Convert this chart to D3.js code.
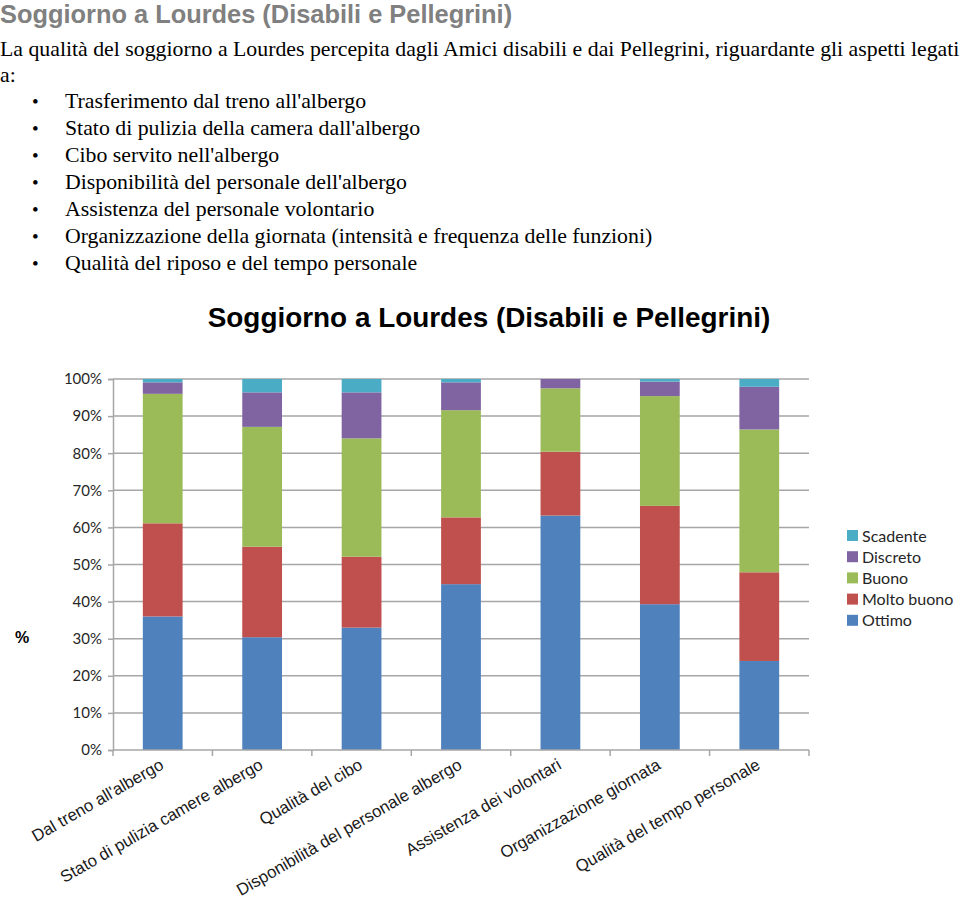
<!DOCTYPE html>
<html>
<head>
<meta charset="utf-8">
<script src="https://cdn.jsdelivr.net/npm/d3@7"></script>
<style>
  html, body { margin: 0; padding: 0; background: #fff; }
  svg { display: block; }
</style>
</head>
<body>
<svg id="chart" width="960" height="901"></svg>
<script>
// ---- data ----
const pageTitle = "Soggiorno a Lourdes (Disabili e Pellegrini)";
const introLines = [
  "La qualità del soggiorno a Lourdes percepita dagli Amici disabili e dai Pellegrini, riguardante gli aspetti legati",
  "a:"
];
const bulletItems = [
  "Trasferimento dal treno all'albergo",
  "Stato di pulizia della camera dall'albergo",
  "Cibo servito nell'albergo",
  "Disponibilità del personale dell'albergo",
  "Assistenza del personale volontario",
  "Organizzazione della giornata (intensità e frequenza delle funzioni)",
  "Qualità del riposo e del tempo personale"
];
const chartTitle = "Soggiorno a Lourdes (Disabili e Pellegrini)";
const categories = [
  "Dal treno all'albergo",
  "Stato di pulizia camere albergo",
  "Qualità del cibo",
  "Disponibilità del personale albergo",
  "Assistenza dei volontari",
  "Organizzazione giornata",
  "Qualità del tempo personale"
];
const seriesNames = ["Ottimo", "Molto buono", "Buono", "Discreto", "Scadente"];
const ottimo     = [36.0, 30.4, 33.0, 44.7, 63.2, 39.3, 24.0];
const moltoBuono = [25.1, 24.4, 19.1, 18.0, 17.2, 26.5, 23.9];
const buono      = [34.9, 32.3, 31.9, 28.9, 17.1, 29.6, 38.5];
const discreto   = [ 3.1,  9.3, 12.4,  7.5,  2.5,  3.9, 11.5];
const scadente   = [ 0.9,  3.6,  3.6,  0.9,  0.0,  0.7,  2.1];
const yTicks = [0, 10, 20, 30, 40, 50, 60, 70, 80, 90, 100];
const colors = ["#4F81BD", "#C0504D", "#9BBB59", "#8064A2", "#4BACC6"];

// ---- build ----
const svg = d3.select("#chart");
const seriesValues = [ottimo, moltoBuono, buono, discreto, scadente];
const rows = categories.map((c, i) => {
  const r = { cat: c };
  seriesNames.forEach((s, j) => r[s] = seriesValues[j][i]);
  return r;
});

// page header
svg.append("text").attr("x", 0).attr("y", 23)
  .attr("font-family", "Liberation Sans, Arial, sans-serif")
  .attr("font-weight", "bold").attr("font-size", 25.4).attr("fill", "#808080")
  .text(pageTitle);

const serif = "Liberation Serif, Times New Roman, serif";
const serifSize = 21.8;
introLines.forEach((t, i) => {
  svg.append("text").attr("x", 0).attr("y", 56 + i * 26)
    .attr("font-family", serif).attr("font-size", serifSize).attr("fill", "#000")
    .text(t);
});
bulletItems.forEach((t, i) => {
  const y = 108 + i * 27;
  svg.append("text").attr("x", 32).attr("y", y)
    .attr("font-family", serif).attr("font-size", 19).text("•");
  svg.append("text").attr("x", 65).attr("y", y)
    .attr("font-family", serif).attr("font-size", serifSize).attr("fill", "#000")
    .text(t);
});

// chart title
svg.append("text").attr("x", 489).attr("y", 327).attr("text-anchor", "middle")
  .attr("font-family", "Liberation Sans, Arial, sans-serif")
  .attr("font-weight", "bold").attr("font-size", 27.9).attr("fill", "#000")
  .text(chartTitle);

// scales
const x = d3.scaleBand().domain(categories).range([113, 809]).paddingInner(0.6).paddingOuter(0.3);
const y = d3.scaleLinear().domain([0, 100]).range([750, 379]);

// gridlines
const grid = svg.append("g");
grid.selectAll("line").data(yTicks.filter(d => d > 0)).join("line")
  .attr("x1", 113).attr("x2", 809)
  .attr("y1", d => y(d)).attr("y2", d => y(d))
  .attr("stroke", "#a6a6a6").attr("stroke-width", 1.5);

// bars
const stack = d3.stack().keys(seriesNames)(rows);
svg.append("g").selectAll("g").data(stack).join("g")
  .attr("fill", (d, i) => colors[i])
  .selectAll("rect").data(d => d).join("rect")
  .attr("x", d => x(d.data.cat))
  .attr("width", x.bandwidth())
  .attr("y", d => y(d[1]))
  .attr("height", d => y(d[0]) - y(d[1]));

// y axis
const yAxis = svg.append("g").attr("transform", "translate(113,0)")
  .call(d3.axisLeft(y).tickValues(yTicks).tickFormat(d => d + "%").tickSize(5).tickPadding(6));
yAxis.select(".domain").attr("stroke", "#a6a6a6").attr("stroke-width", 1.5);
yAxis.selectAll(".tick line").attr("stroke", "#a6a6a6").attr("stroke-width", 1.5);
yAxis.selectAll(".tick text")
  .attr("font-family", "Lato, sans-serif").attr("font-size", 15).attr("fill", "#262626");

// x axis
const xAxisG = svg.append("g").attr("transform", "translate(0,750)");
xAxisG.append("line").attr("x1", 113).attr("x2", 809).attr("y1", 0).attr("y2", 0)
  .attr("stroke", "#a6a6a6").attr("stroke-width", 1.5);
const boundaries = d3.range(categories.length + 1).map(i => 113 + i * (696 / categories.length));
xAxisG.selectAll("line.tk").data(boundaries).join("line").attr("class", "tk")
  .attr("x1", d => d).attr("x2", d => d).attr("y1", 0).attr("y2", 6)
  .attr("stroke", "#a6a6a6").attr("stroke-width", 1.5);
xAxisG.selectAll("text").data(categories).join("text")
  .attr("transform", d => `translate(${x(d) + x.bandwidth() / 2 + 2},${18}) rotate(-30)`)
  .attr("text-anchor", "end")
  .attr("font-family", "Liberation Sans, Arial, sans-serif")
  .attr("font-size", 16.8).attr("fill", "#1a1a1a")
  .text(d => d);

// y axis label
svg.append("text").attr("x", 22).attr("y", 643).attr("text-anchor", "middle")
  .attr("font-family", "Liberation Sans, Arial, sans-serif")
  .attr("font-weight", "bold").attr("font-size", 16).text("%");

// legend (reverse order)
const legendOrder = seriesNames.map((s, i) => ({ s, c: colors[i] })).reverse();
const lg = svg.append("g").selectAll("g").data(legendOrder).join("g")
  .attr("transform", (d, i) => `translate(847,${530 + i * 21.2})`);
lg.append("rect").attr("width", 11).attr("height", 11).attr("fill", d => d.c);
lg.append("text").attr("x", 15).attr("y", 11.5)
  .attr("font-family", "Lato, sans-serif").attr("font-size", 16).attr("fill", "#262626")
  .text(d => d.s);
</script>
</body>
</html>
